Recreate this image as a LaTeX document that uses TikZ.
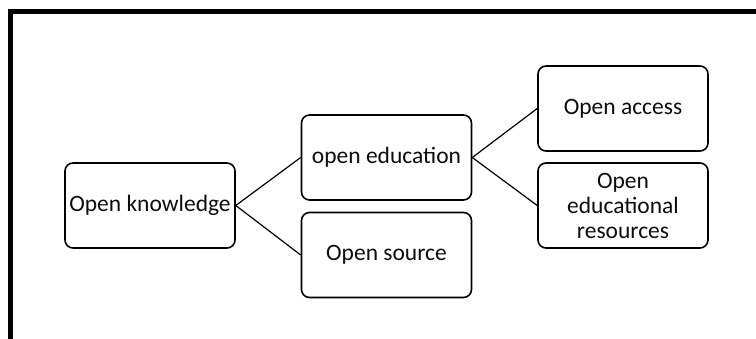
\documentclass[tikz,border=0pt]{standalone}
\usepackage{fontspec}
\setmainfont{Carlito}
\usetikzlibrary{positioning}
\definecolor{textgray}{rgb}{0.05, 0.05, 0.05}
\tikzset{
	item/.style={draw, line width=1.6pt, rounded corners=8pt, minimum width=170pt, minimum height=85pt, inner sep=2pt, align=center, text=textgray, font=\fontsize{23.5}{25}\selectfont},
	link/.style={line width=1.2pt}
}

\begin{document}
\begin{tikzpicture}[x=1pt, y=-1pt]
		\useasboundingbox (0,0) rectangle (756,339);
		\draw [line width=5pt] (10.5,339)--(10.5,12)--(756,12);
		
		\node [item] (knowledge) at (150,205.5) {Open knowledge};
		\node [item] (education) at (386.5,157.5) {open education};
		\node [item] (source) at (386.5,255) {Open source};
		\node [item] (access) at (623,108.5) {Open access};
		\node [item] (oer) at (623,205.5) {Open\\educational\\resources};
		
		\draw [link] (knowledge.east)--(education.west);
		\draw [link] (knowledge.east)--(source.west);
		\draw [link] (education.east)--(access.west);
		\draw [link] (education.east)--(oer.west);
	\end{tikzpicture}
\end{document}
